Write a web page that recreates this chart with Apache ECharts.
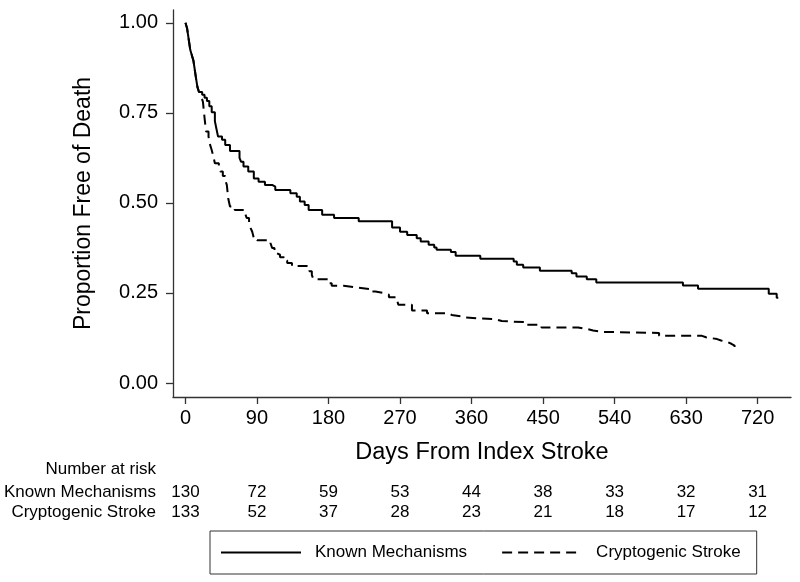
<!DOCTYPE html>
<html>
<head>
<meta charset="utf-8">
<script src="https://cdn.jsdelivr.net/npm/echarts@6/dist/echarts.min.js"></script>
<style>
html,body{margin:0;padding:0;background:#fff;}
#chart{width:800px;height:582px;}
</style>
</head>
<body>
<div id="chart"></div>
<script>
// ---- data ----
var tickDays = [0, 90, 180, 270, 360, 450, 540, 630, 720];
var yTicks = [0, 0.25, 0.5, 0.75, 1.0];

var knownDays = [0,2,3,4,5,6,8,10,11,12,13,14,15,17,21,24,27,30,33,37,39,41,46,50,56,68,70,73,79,86,92,100,109,113,132,140,144,150,155,172,187,218,260,270,279,291,296,306,313,316,334,340,371,413,417,425,446,486,492,505,517,626,645,734,744,746];
var knownSurv = [1.0,0.985,0.97,0.955,0.94,0.925,0.91,0.895,0.88,0.865,0.85,0.836,0.822,0.808,0.80,0.792,0.783,0.768,0.752,0.727,0.705,0.684,0.675,0.661,0.644,0.625,0.614,0.601,0.587,0.568,0.559,0.55,0.545,0.536,0.527,0.517,0.504,0.494,0.48,0.467,0.458,0.449,0.432,0.42,0.411,0.402,0.393,0.384,0.376,0.37,0.364,0.353,0.345,0.337,0.328,0.321,0.312,0.305,0.296,0.288,0.279,0.271,0.262,0.248,0.237,0.237];

var cryptoDays = [0,2,3,4,5,6,8,10,11,12,13,14,15,17,20,22,23,24,25,26,29,31,33,35,37,42,44,47,50,52,53,54,56,62,75,77,80,82,84,86,90,107,109,112,115,119,124,128,134,153,156,159,161,180,184,199,212,231,239,249,256,266,268,285,304,331,335,348,351,390,398,427,448,494,505,513,524,596,650,655,669,674,683,687,691];
var cryptoSurv = [1.0,0.985,0.97,0.955,0.94,0.925,0.91,0.895,0.88,0.865,0.85,0.836,0.822,0.808,0.795,0.78,0.758,0.736,0.716,0.698,0.684,0.661,0.647,0.63,0.61,0.598,0.587,0.575,0.564,0.55,0.53,0.51,0.49,0.48,0.471,0.458,0.445,0.43,0.42,0.402,0.396,0.388,0.375,0.36,0.356,0.349,0.34,0.333,0.325,0.319,0.31,0.30,0.288,0.277,0.27,0.266,0.261,0.254,0.25,0.245,0.238,0.231,0.217,0.201,0.194,0.189,0.185,0.182,0.177,0.172,0.169,0.162,0.154,0.15,0.146,0.142,0.139,0.131,0.127,0.122,0.118,0.113,0.109,0.104,0.10];

var atRiskLabels = ['Known Mechanisms', 'Cryptogenic Stroke'];
var atRiskKnown = [130, 72, 59, 53, 44, 38, 33, 32, 31];
var atRiskCrypto = [133, 52, 37, 28, 23, 21, 18, 17, 12];

var FONT = '"Liberation Sans", Arial, Helvetica, sans-serif';

function pairs(xs, ys){ return xs.map(function(x,i){ return [x, ys[i]]; }); }

var chart = echarts.init(document.getElementById('chart'), null, {renderer:'canvas'});
var option = {
  animation: false,
  backgroundColor: '#fff',
  textStyle: {fontFamily: FONT, color: '#000'},
  grid: {left: 173, right: 9, top: 10, bottom: 185, containLabel: false},
  xAxis: {
    type: 'value', min: -15.7, max: 762,
    name: 'Days From Index Stroke', nameLocation: 'middle', nameGap: 44,
    nameTextStyle: {fontSize: 23.5, color: '#000', fontFamily: FONT},
    axisLine: {show: true, onZero: false, lineStyle: {color: '#333', width: 1.3}},
    axisTick: {show: true, length: 7, customValues: tickDays, lineStyle: {color: '#333', width: 1.3}},
    axisLabel: {customValues: tickDays, fontSize: 20, color: '#000', margin: 11, fontFamily: FONT},
    splitLine: {show: false}
  },
  yAxis: {
    type: 'value', min: -0.0388, max: 1.0355,
    name: 'Proportion Free of Death', nameLocation: 'middle', nameGap: 78,
    nameTextStyle: {fontSize: 23, color: '#000', fontFamily: FONT},
    axisLine: {show: true, onZero: false, lineStyle: {color: '#333', width: 1.3}},
    axisTick: {show: true, length: 7, customValues: yTicks, lineStyle: {color: '#333', width: 1.3}},
    axisLabel: {customValues: yTicks, fontSize: 20, color: '#000', margin: 15, fontFamily: FONT,
      formatter: function(v){ return v.toFixed(2); }},
    splitLine: {show: false}
  },
  legend: {
    left: 210, top: 531,
    orient: 'horizontal',
    data: ['Known Mechanisms', 'Cryptogenic Stroke'],
    itemWidth: 80, itemHeight: 12, itemGap: 34,
    padding: [13, 16, 13, 10],
    borderColor: '#333', borderWidth: 1,
    itemStyle: {opacity: 0},
    textStyle: {fontSize: 17, color: '#000', fontFamily: FONT, padding: [0,0,0,9]}
  },
  series: [
    {name: 'Known Mechanisms', type: 'line', step: 'end', data: pairs(knownDays, knownSurv),
     symbol: 'none', showSymbol: false, lineStyle: {color: '#000', width: 2, type: 'solid'},
     itemStyle: {color: '#000'}},
    {name: 'Cryptogenic Stroke', type: 'line', step: 'end', data: pairs(cryptoDays, cryptoSurv),
     symbol: 'none', showSymbol: false, lineStyle: {color: '#000', width: 2, type: [10, 6]},
     itemStyle: {color: '#000'}}
  ]
};
chart.setOption(option);

// number-at-risk table positioned through the x axis scale
var rowY = [492.5, 512.5];
var g = [];
g.push({type: 'text', x: 156, y: 469, style: {text: 'Number at risk', fill: '#000', font: '17px ' + FONT, textAlign: 'right', textVerticalAlign: 'middle'}});
var rows = [atRiskKnown, atRiskCrypto];
rows.forEach(function(row, r){
  g.push({type: 'text', x: 156, y: rowY[r], style: {text: atRiskLabels[r], fill: '#000', font: '17px ' + FONT, textAlign: 'right', textVerticalAlign: 'middle'}});
  row.forEach(function(n, i){
    var px = chart.convertToPixel({xAxisIndex: 0}, tickDays[i]);
    g.push({type: 'text', x: px, y: rowY[r], style: {text: String(n), fill: '#000', font: '17px ' + FONT, textAlign: 'center', textVerticalAlign: 'middle'}});
  });
});
chart.setOption({graphic: g});
</script>
</body>
</html>
